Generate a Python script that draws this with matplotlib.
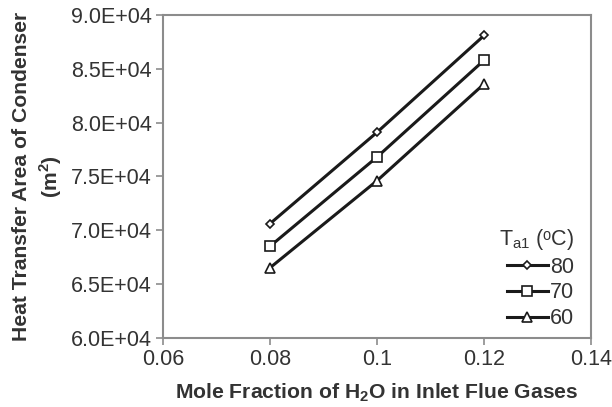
import matplotlib
matplotlib.use("Agg")
import matplotlib.pyplot as plt

plt.rcParams['font.family'] = ['Liberation Sans', 'DejaVu Sans']

# mole fraction of H2O in the flue gas
x_frac = [0.08, 0.10, 0.12]
# condenser heat transfer area (m2) for each inlet air temperature
area_80 = [70600, 79100, 88100]
area_70 = [68500, 76800, 85800]
area_60 = [66500, 74600, 83600]
temps = ['80', '70', '60']
y_ticks = [60000, 65000, 70000, 75000, 80000, 85000, 90000]
x_ticks = [0.06, 0.08, 0.10, 0.12, 0.14]

fig = plt.figure(figsize=(6.12, 4.07), dpi=100)
ax = fig.add_axes([0.266, 0.17, 0.700, 0.793])

ax.plot(x_frac, area_80, color='#1a1a1a', lw=2.2, marker='D', ms=4.5,
        mfc='white', mec='#1a1a1a', mew=1.2, label=temps[0])
ax.plot(x_frac, area_70, color='#1a1a1a', lw=2.2, marker='s', ms=7,
        mfc='white', mec='#1a1a1a', mew=1.2, label=temps[1])
ax.plot(x_frac, area_60, color='#1a1a1a', lw=2.2, marker='^', ms=7,
        mfc='white', mec='#1a1a1a', mew=1.2, label=temps[2])

ax.set_xlim(0.06, 0.14)
ax.set_ylim(60000, 90000)
ax.set_xticks(x_ticks)
ax.set_xticklabels(['0.06', '0.08', '0.1', '0.12', '0.14'])
ax.set_yticks(y_ticks)
ax.set_yticklabels(['%.1fE+04' % (v / 1e4) for v in y_ticks])

for s in ax.spines.values():
    s.set_color('#8c8c8c')
    s.set_linewidth(1.5)
ax.tick_params(direction='out', length=5, width=1.2, color='#8c8c8c',
               labelsize=15.5, labelcolor='#333333', pad=3)

ax.set_xlabel('Mole Fraction of H$_\\mathregular{2}$O in Inlet Flue Gases',
              fontsize=15.2, fontweight='bold', color='#333333', labelpad=8)
ax.set_ylabel('Heat Transfer Area of Condenser\n(m$^\\mathregular{2}$)',
              fontsize=15.2, fontweight='bold', color='#333333', labelpad=5,
              linespacing=1.3)

leg = ax.legend(title='T$_{\\mathregular{a1}}$ (ᵒC)', loc='lower right',
                bbox_to_anchor=(0.995, -0.02), frameon=False, fontsize=15.5,
                title_fontsize=15.5, handlelength=1.9, handletextpad=0.1,
                labelspacing=0.22, borderpad=0.2)
for t in leg.get_texts():
    t.set_color('#333333')
leg.get_title().set_color('#333333')
leg._legend_box.align = 'right'

fig.savefig('out.png', dpi=100)
